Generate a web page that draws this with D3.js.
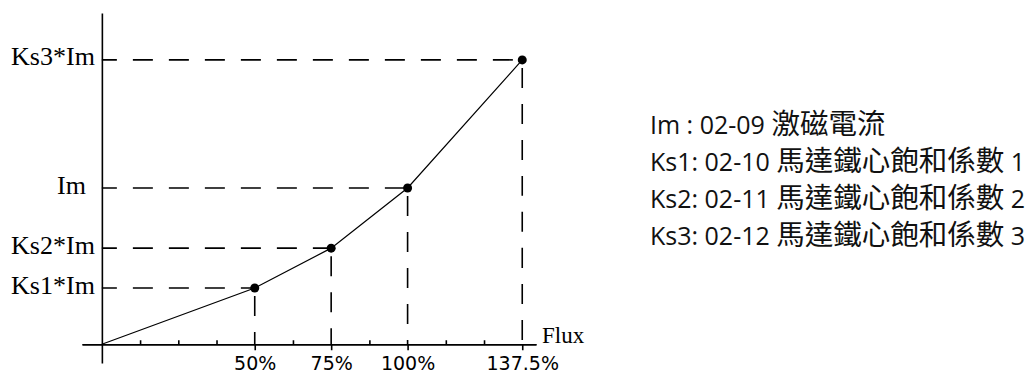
<!DOCTYPE html>
<html>
<head>
<meta charset="utf-8">
<script src="https://cdn.jsdelivr.net/npm/d3@7"></script>
<style>
  html, body { margin: 0; padding: 0; background: #fff; }
  svg { display: block; }
</style>
</head>
<body>
<svg id="chart" width="1030" height="374"></svg>
<script>
// ---- data ----
const fluxPercent = [0, 50, 75, 100, 137.5];           // x values (%)
const currentLevel = [0, 0.36, 0.615, 1, 1.82];         // y values in units of Im
const pointNames = ["", "Ks1*Im", "Ks2*Im", "Im", "Ks3*Im"];
const majorTicks = [50, 75, 100, 137.5];
const minorTicks = [12.5, 25, 37.5, 62.5, 87.5, 112.5, 125];
const legendLines = [
  "Im : 02-09 激磁電流",
  "Ks1: 02-10 馬達鐵心飽和係數 1",
  "Ks2: 02-11 馬達鐵心飽和係數 2",
  "Ks3: 02-12 馬達鐵心飽和係數 3"
];

const svg = d3.select("#chart");
const x = d3.scaleLinear().domain([-6.5, 142]).range([82, 536]);
const y = d3.scaleLinear().domain([-0.12, 2.12]).range([363, 13]);
const x0 = x(0), y0 = y(0);

const pts = fluxPercent.map((f, i) => ({ f, v: currentLevel[i], name: pointNames[i] }));
const marked = pts.slice(1);

// dashed guides
svg.append("g").selectAll("line.h").data(marked).join("line")
  .attr("x1", x0).attr("x2", d => x(d.f))
  .attr("y1", d => y(d.v)).attr("y2", d => y(d.v))
  .attr("stroke", "#000").attr("stroke-width", 1.6)
  .attr("stroke-dasharray", "20,16").attr("stroke-dashoffset", 5);
svg.append("g").selectAll("line.v").data(marked).join("line")
  .attr("x1", d => x(d.f)).attr("x2", d => x(d.f))
  .attr("y1", d => y(d.v)).attr("y2", y0)
  .attr("stroke", "#000").attr("stroke-width", 1.6)
  .attr("stroke-dasharray", "20,16").attr("stroke-dashoffset", 28);

// x axis: minor ticks upward
const gMinor = svg.append("g").attr("transform", `translate(0,${y0})`)
  .call(d3.axisTop(x).tickValues(minorTicks).tickSize(4).tickSizeOuter(0).tickFormat(""));
// x axis: major ticks + labels
const gX = svg.append("g").attr("transform", `translate(0,${y0})`)
  .call(d3.axisBottom(x).tickValues(majorTicks).tickSize(6).tickSizeOuter(0).tickFormat(d => d + "%"));
[gMinor, gX].forEach(g => {
  g.selectAll("path.domain").attr("stroke", "#000").attr("stroke-width", 1.6);
  g.selectAll(".tick line").attr("stroke", "#000").attr("stroke-width", 1.6);
});
gX.selectAll(".tick text")
  .attr("y", 26).attr("dy", 0)
  .attr("font-family", "'DejaVu Sans', Verdana, sans-serif")
  .attr("font-size", 19).attr("fill", "#000");

// y axis
const gY = svg.append("g").attr("transform", `translate(${x0},0)`)
  .call(d3.axisLeft(y).tickValues(marked.map(d => d.v)).tickSize(0).tickPadding(7).tickSizeOuter(0)
    .tickFormat((d, i) => marked[i].name));
gY.select("path.domain").attr("stroke", "#000").attr("stroke-width", 1.6);
gY.selectAll(".tick text")
  .attr("dy", 5)
  .attr("font-family", "'Liberation Serif', 'Times New Roman', serif")
  .attr("font-size", 26).attr("fill", "#000")
  .attr("x", (d, i) => marked[i].name === "Im" ? -16 : -7);

// Flux label
svg.append("text").attr("x", x(142) + 6).attr("y", y0 - 1)
  .attr("font-family", "'Liberation Serif', 'Times New Roman', serif")
  .attr("font-size", 23).text("Flux");

// curve
svg.append("path").datum(pts)
  .attr("d", d3.line().x(d => x(d.f)).y(d => y(d.v)))
  .attr("fill", "none").attr("stroke", "#000").attr("stroke-width", 1.2);

// points
svg.append("g").selectAll("circle").data(marked).join("circle")
  .attr("cx", d => x(d.f)).attr("cy", d => y(d.v)).attr("r", 4.5).attr("fill", "#000");

// legend (CJK runs slightly larger, as in the reference)
const legend = svg.append("g").selectAll("text").data(legendLines).join("text")
  .attr("x", 650).attr("y", (d, i) => 134 + i * 37)
  .attr("font-family", "'Open Sans', 'Noto Sans CJK TC', sans-serif")
  .attr("fill", "#111");
legend.each(function(line) {
  const parts = line.split(/([\u4e00-\u9fff]+)/).filter(s => s.length);
  d3.select(this).selectAll("tspan").data(parts).join("tspan")
    .attr("font-family", s => /[\u4e00-\u9fff]/.test(s) ? "'Noto Sans CJK TC', sans-serif" : "'Open Sans', sans-serif")
    .attr("font-size", s => /[\u4e00-\u9fff]/.test(s) ? 28.5 : 25)
    .text(s => s);
});
</script>
</body>
</html>
